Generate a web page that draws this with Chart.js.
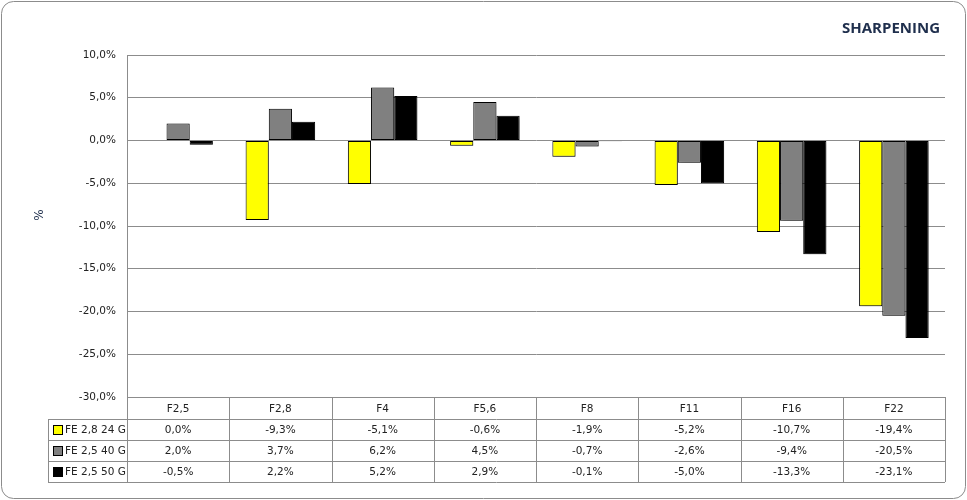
<!DOCTYPE html>
<html>
<head>
<meta charset="utf-8">
<script src="https://cdn.jsdelivr.net/npm/chart.js@4.4.1/dist/chart.umd.min.js"></script>
<style>
  html, body { margin: 0; padding: 0; background: #fff; }
  #wrap { width: 967px; height: 500px; position: relative; }
</style>
</head>
<body>
<div id="wrap"><canvas id="grafico"></canvas></div>
<script>
const categorias = ['F2,5', 'F2,8', 'F4', 'F5,6', 'F8', 'F11', 'F16', 'F22'];
const serie24 = [0.0, -9.3, -5.1, -0.6, -1.9, -5.2, -10.7, -19.4];
const serie40 = [2.0, 3.7, 6.2, 4.5, -0.7, -2.6, -9.4, -20.5];
const serie50 = [-0.5, 2.2, 5.2, 2.9, -0.1, -5.0, -13.3, -23.1];
const nomesSeries = ['FE 2,8 24 G', 'FE 2,5 40 G', 'FE 2,5 50 G'];
const coresSeries = ['#ffff00', '#808080', '#000000'];
const ticksY = [10, 5, 0, -5, -10, -15, -20, -25, -30];

const fonte = '"DejaVu Sans", Verdana, sans-serif';

function formatar(v) {
  return v.toFixed(1).replace('.', ',') + '%';
}

const pluginMoldura = {
  id: 'moldura',
  beforeDraw(chart) {
    const ctx = chart.ctx;
    ctx.save();
    ctx.fillStyle = '#fff';
    ctx.fillRect(0, 0, chart.width, chart.height);
    ctx.restore();
  },
  beforeDatasetsDraw(chart) {
    const ctx = chart.ctx;
    ctx.save();
    ctx.shadowColor = 'rgba(0,0,0,0.25)';
    ctx.shadowBlur = 4;
    ctx.shadowOffsetX = 2;
    ctx.shadowOffsetY = 2;
  },
  afterDatasetsDraw(chart) {
    chart.ctx.restore();
  },
  afterDraw(chart) {
    const ctx = chart.ctx;
    const area = chart.chartArea;
    const x = chart.scales.x;
    const larg = area.width / categorias.length;
    const esq = 48;
    const topo = area.bottom;
    const altCab = 22;
    const altLinha = 21;
    const fim = topo + altCab + altLinha * 3;
    const series = [serie24, serie40, serie50];

    ctx.save();
    ctx.strokeStyle = '#8c8c8c';
    ctx.lineWidth = 1;

    // linhas horizontais da tabela
    ctx.beginPath();
    ctx.moveTo(area.left, topo + 0.5);
    ctx.lineTo(area.right, topo + 0.5);
    for (let r = 0; r <= 3; r++) {
      const y = Math.round(topo + altCab + r * altLinha) + 0.5;
      ctx.moveTo(esq, y);
      ctx.lineTo(area.right, y);
    }
    // linhas verticais
    ctx.moveTo(esq + 0.5, topo + altCab);
    ctx.lineTo(esq + 0.5, fim);
    for (let i = 0; i <= categorias.length; i++) {
      const xv = Math.round(area.left + i * larg) + 0.5;
      ctx.moveTo(xv, topo);
      ctx.lineTo(xv, fim);
    }
    ctx.stroke();

    // texto
    ctx.fillStyle = '#222';
    ctx.font = '10.5px ' + fonte;
    ctx.textAlign = 'center';
    ctx.textBaseline = 'middle';
    categorias.forEach((c, i) => {
      const cx = x.getPixelForValue(i);
      ctx.fillText(c, cx, topo + altCab / 2 + 1);
      series.forEach((s, r) => {
        ctx.fillText(formatar(s[i]), cx, topo + altCab + r * altLinha + altLinha / 2 + 1);
      });
    });

    // legenda na tabela
    ctx.textAlign = 'left';
    nomesSeries.forEach((n, r) => {
      const yc = topo + altCab + r * altLinha + altLinha / 2;
      ctx.fillStyle = coresSeries[r];
      ctx.fillRect(53, Math.round(yc - 5), 10, 10);
      ctx.strokeStyle = '#000';
      ctx.strokeRect(53.5, Math.round(yc - 5) + 0.5, 9, 9);
      ctx.fillStyle = '#222';
      ctx.fillText(n, 65, yc + 1);
    });

    // titulo
    ctx.fillStyle = '#1f2f4d';
    ctx.font = 'bold 15px "Open Sans", sans-serif';
    ctx.textAlign = 'right';
    ctx.fillText('SHARPENING', 940, 29);

    // rotulo do eixo
    ctx.save();
    ctx.translate(40, 215);
    ctx.rotate(-Math.PI / 2);
    ctx.textAlign = 'center';
    ctx.font = '12px ' + fonte;
    ctx.fillText('%', 0, 0);
    ctx.restore();

    // moldura arredondada
    ctx.strokeStyle = '#8c8c8c';
    ctx.beginPath();
    ctx.roundRect(1.5, 1.5, chart.width - 3, chart.height - 3, 12);
    ctx.stroke();
    ctx.restore();
  }
};

new Chart(document.getElementById('grafico'), {
  type: 'bar',
  data: {
    labels: categorias,
    datasets: [serie24, serie40, serie50].map((s, i) => ({
      label: nomesSeries[i],
      data: s,
      backgroundColor: coresSeries[i],
      borderColor: '#000',
      borderWidth: 1,
      borderSkipped: false,
      categoryPercentage: 0.68,
      barPercentage: 1.0
    }))
  },
  options: {
    responsive: true,
    maintainAspectRatio: false,
    animation: false,
    layout: { padding: { left: 0, right: 22, top: 55, bottom: 103 } },
    plugins: {
      legend: { display: false },
      tooltip: { enabled: false }
    },
    scales: {
      x: {
        display: false,
        offset: true
      },
      y: {
        min: -30,
        max: 10,
        afterBuildTicks(scale) {
          scale.ticks = ticksY.map(v => ({ value: v }));
        },
        afterFit(scale) {
          scale.width = 127;
        },
        grid: {
          color: '#8c8c8c',
          drawTicks: false
        },
        border: { display: true, color: '#8c8c8c' },
        ticks: {
          padding: 11,
          color: '#222',
          font: { family: fonte, size: 10.5 },
          callback: v => formatar(v)
        }
      }
    }
  },
  plugins: [pluginMoldura]
});
</script>
</body>
</html>
